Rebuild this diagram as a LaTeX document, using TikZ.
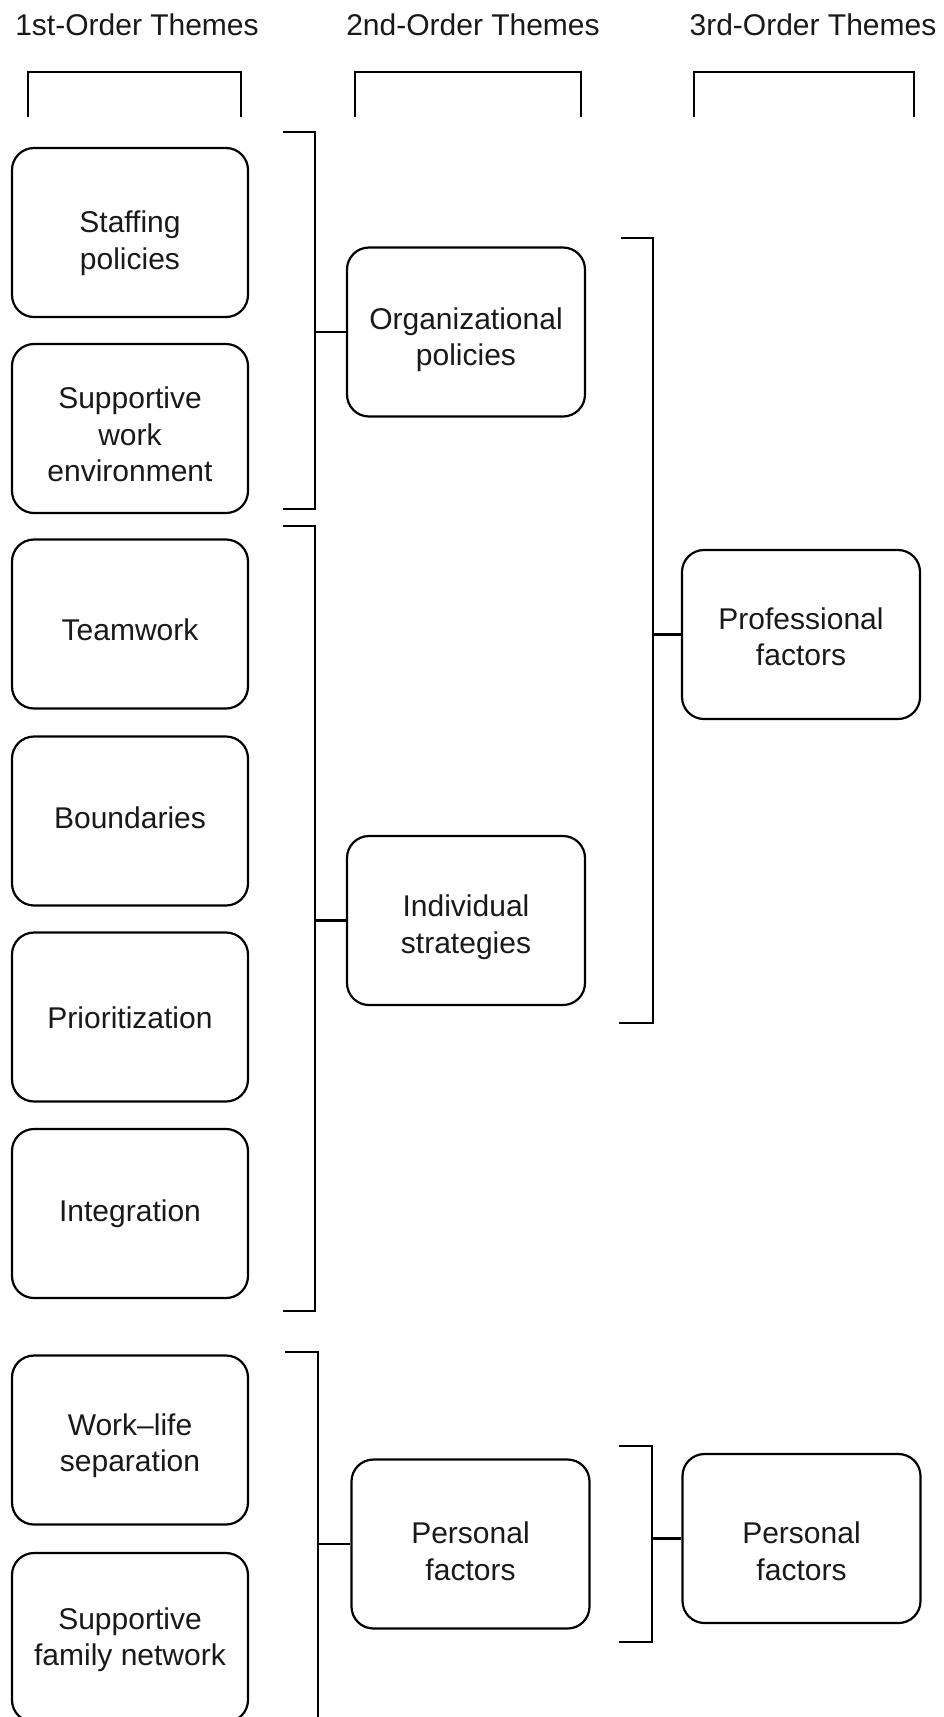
\documentclass[tikz,border=0pt]{standalone}
\usepackage{fontspec}
\setmainfont{Liberation Sans}
\newcommand{\mlines}[1]{\begin{tabular}[t]{@{}c@{}}#1\end{tabular}}
\begin{document}
\begin{tikzpicture}[x=1pt,y=-1pt,
  line width=2.2pt,
  every node/.style={font=\fontsize{30}{36.5}\selectfont, text=black!90},
  themebox/.style={draw, rounded corners=22pt, minimum width=236pt, minimum height=169pt, inner sep=0pt},
  wbox/.style={themebox, minimum width=238pt},
  lbl/.style={anchor=base, inner sep=0pt},
  head/.style={anchor=base, inner sep=0pt},
  brk/.style={draw, line join=miter}
]
\renewcommand{\arraystretch}{1}
\useasboundingbox (0,0) rectangle (944,1717);
\clip (0,0) rectangle (944,1717);

% headers
\node[head] (h1) at (137,35) {1st-Order Themes};
\node[head] (h2) at (473,35) {2nd-Order Themes};
\node[head] (h3) at (813,35) {3rd-Order Themes};
\draw[brk] (28,117) -- (28,72) -- (241,72) -- (241,117);
\draw[brk] (355,117) -- (355,72) -- (581,72) -- (581,117);
\draw[brk] (694,117) -- (694,72) -- (914,72) -- (914,117);

% first-order boxes
\node[themebox] (a1) at (130,232.5) {};
\node[themebox] (a2) at (130,428.5) {};
\node[themebox] (a3) at (130,624) {};
\node[themebox] (a4) at (130,821) {};
\node[themebox] (a5) at (130,1017) {};
\node[themebox] (a6) at (130,1213.5) {};
\node[themebox] (a7) at (130,1440) {};
\node[themebox] (a8) at (130,1637.5) {};
\node[lbl] (ta1) at (130,232.5) {\mlines{Staffing\\policies}};
\node[lbl] (ta2) at (130,408.8) {\mlines{Supportive\\work\\environment}};
\node[lbl] (ta3) at (130,640) {Teamwork};
\node[lbl] (ta4) at (130,828) {Boundaries};
\node[lbl] (ta5) at (130,1028) {Prioritization};
\node[lbl] (ta6) at (130,1221.7) {Integration};
\node[lbl] (ta7) at (130,1435) {\mlines{Work--life\\separation}};
\node[lbl] (ta8) at (130,1629) {\mlines{Supportive\\family network}};

% second-order boxes
\node[wbox] (b1) at (466,332) {};
\node[wbox] (b2) at (466,920.5) {};
\node[wbox] (b3) at (470.5,1544) {};
\node[lbl] (tb1) at (466,329) {\mlines{Organizational\\policies}};
\node[lbl] (tb2) at (466,916.7) {\mlines{Individual\\strategies}};
\node[lbl] (tb3) at (470.5,1543.6) {\mlines{Personal\\factors}};

% third-order boxes
\node[wbox] (c1) at (801,634.5) {};
\node[wbox] (c2) at (801.5,1538.5) {};
\node[lbl] (tc1) at (801,629) {\mlines{Professional\\factors}};
\node[lbl] (tc2) at (801.5,1543.6) {\mlines{Personal\\factors}};

% brackets
\coordinate (k1t) at (315,132);
\coordinate (k1b) at (315,509);
\draw[brk] (283,132) -- (k1t) -- (k1b) -- (283,509);
\draw (k1t |- b1.west) -- (b1.west);

\coordinate (k2t) at (315,526);
\coordinate (k2b) at (315,1311);
\draw[brk] (283,526) -- (k2t) -- (k2b) -- (283,1311);
\draw (k2t |- b2.west) -- (b2.west);

\coordinate (k3t) at (653,238);
\coordinate (k3b) at (653,1023);
\draw[brk] (621,238) -- (k3t) -- (k3b) -- (619,1023);
\draw (k3t |- c1.west) -- (c1.west);

\coordinate (k4t) at (318,1352);
\coordinate (k4b) at (318,1730);
\draw[brk] (285,1352) -- (k4t) -- (k4b);
\draw (k4t |- b3.west) -- (b3.west);

\coordinate (k5t) at (652,1446);
\coordinate (k5b) at (652,1642);
\draw[brk] (619,1446) -- (k5t) -- (k5b) -- (619,1642);
\draw (k5t |- c2.west) -- (c2.west);
\end{tikzpicture}
\end{document}
